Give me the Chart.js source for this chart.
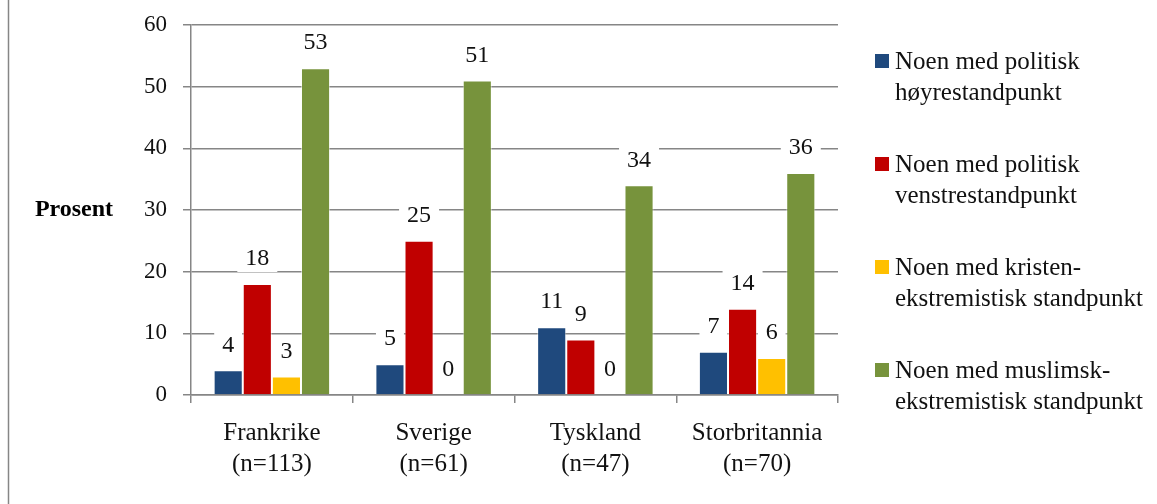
<!DOCTYPE html>
<html>
<head>
<meta charset="utf-8">
<script src="https://cdn.jsdelivr.net/npm/chart.js@4/dist/chart.umd.min.js"></script>
<style>
  body { margin: 0; background: #fff; }
  #wrap { width: 1157px; height: 504px; }
</style>
</head>
<body>
<div id="wrap"><canvas id="chart"></canvas></div>
<script>
var categories = [['Frankrike', '(n=113)'], ['Sverige', '(n=61)'], ['Tyskland', '(n=47)'], ['Storbritannia', '(n=70)']];
var seriesNames = [
  ['Noen med politisk', 'høyrestandpunkt'],
  ['Noen med politisk', 'venstrestandpunkt'],
  ['Noen med kristen-', 'ekstremistisk standpunkt'],
  ['Noen med muslimsk-', 'ekstremistisk standpunkt']
];
var hoyre = [4, 5, 11, 7];
var venstre = [18, 25, 9, 14];
var kristen = [3, 0, 0, 6];
var muslimsk = [53, 51, 34, 36];
var yMin = 0, yMax = 60, yStep = 10;
var colors = ['#1F497D', '#C00000', '#FFC000', '#77933C'];

var serif = '"Liberation Serif", "Times New Roman", serif';

// labels over the bars, with a white box that cuts the gridlines
var barLabels = {
  id: 'barLabels',
  beforeDatasetsDraw: function(chart) {
    var ctx = chart.ctx;
    ctx.save();
    ctx.font = '24px ' + serif;
    chart.data.datasets.forEach(function(ds, i) {
      chart.getDatasetMeta(i).data.forEach(function(bar, j) {
        var txt = String(ds.data[j]);
        var w = ctx.measureText(txt).width;
        ctx.fillStyle = '#fff';
        ctx.fillRect(bar.x - w / 2 - 8, bar.y - 38, w + 16, 26);
      });
    });
    ctx.restore();
  },
  afterDatasetsDraw: function(chart) {
    var ctx = chart.ctx;
    ctx.save();
    ctx.font = '24px ' + serif;
    ctx.fillStyle = '#111';
    ctx.textAlign = 'center';
    ctx.textBaseline = 'middle';
    chart.data.datasets.forEach(function(ds, i) {
      chart.getDatasetMeta(i).data.forEach(function(bar, j) {
        ctx.fillText(String(ds.data[j]), bar.x, bar.y - 25);
      });
    });
    ctx.restore();
  },
  afterDraw: function(chart) {
    var ctx = chart.ctx;
    var area = chart.chartArea;
    ctx.save();
    // left frame line
    ctx.strokeStyle = '#868686';
    ctx.lineWidth = 1.5;
    ctx.beginPath();
    ctx.moveTo(8.5, 0);
    ctx.lineTo(8.5, chart.height);
    ctx.stroke();
    // axis title
    ctx.fillStyle = '#000';
    ctx.font = 'bold 24px ' + serif;
    ctx.textAlign = 'center';
    ctx.textBaseline = 'middle';
    ctx.fillText('Prosent', 74, (area.top + area.bottom) / 2);
    // legend
    ctx.font = '25px ' + serif;
    ctx.textAlign = 'left';
    chart.data.datasets.forEach(function(ds, i) {
      var cy = 61 + i * 103;
      ctx.fillStyle = ds.backgroundColor;
      ctx.fillRect(875, cy - 7, 14, 14);
      ctx.fillStyle = '#111';
      ds.label.forEach(function(line, k) {
        ctx.fillText(line, 895, cy + 1 + k * 31);
      });
    });
    ctx.restore();
  }
};

var datasets = [hoyre, venstre, kristen, muslimsk].map(function(vals, i) {
  return {
    label: seriesNames[i],
    data: vals,
    backgroundColor: colors[i],
    borderColor: 'rgba(255,255,255,0.5)',
    borderWidth: 1,
    categoryPercentage: 0.72,
    barPercentage: 1.0
  };
});

new Chart(document.getElementById('chart'), {
  type: 'bar',
  data: { labels: categories, datasets: datasets },
  options: {
    responsive: true,
    maintainAspectRatio: false,
    animation: false,
    layout: { padding: { left: 0, top: 25, right: 319, bottom: 0 } },
    plugins: {
      legend: { display: false },
      tooltip: { enabled: false }
    },
    scales: {
      x: {
        grid: { offset: true, drawOnChartArea: false, color: '#868686', lineWidth: 1.5, tickLength: 8 },
        border: { color: '#868686', width: 1.5 },
        ticks: { color: '#111', font: { family: serif, size: 25, lineHeight: 1.24 }, padding: 15 },
        afterFit: function(s) { s.height = 109; }
      },
      y: {
        min: yMin,
        max: yMax,
        ticks: { stepSize: yStep, color: '#111', font: { family: serif, size: 23 }, padding: 16 },
        grid: { color: '#868686', lineWidth: 1.5, tickLength: 8 },
        border: { color: '#868686', width: 1.5 },
        afterFit: function(s) { s.width = 191; s.paddingTop = 0; s.paddingBottom = 0; }
      }
    }
  },
  plugins: [barLabels]
});
</script>
</body>
</html>
